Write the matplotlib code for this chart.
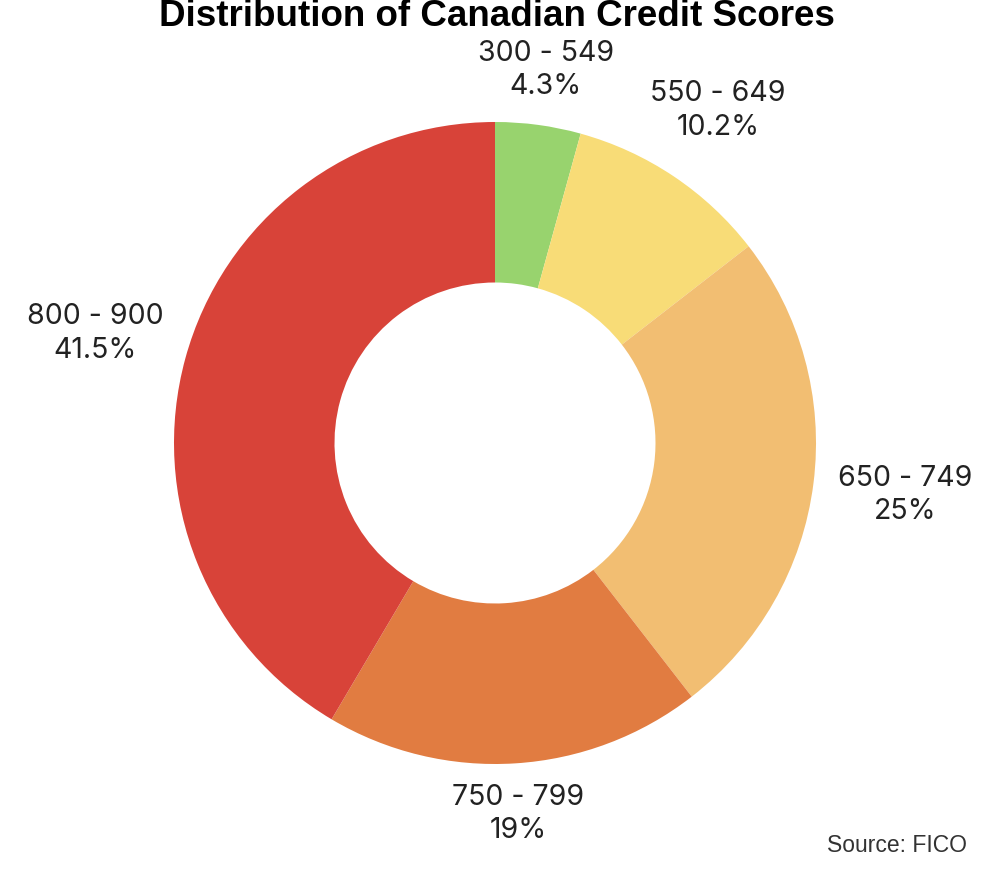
import numpy as np
import matplotlib.pyplot as plt


# =====================================
# Data
# =====================================

ranges = ["300 - 549", "550 - 649", "650 - 749", "750 - 799", "800 - 900"]
shares = [4.3, 10.2, 25, 19, 41.5]
share_labels = ["4.3%", "10.2%", "25%", "19%", "41.5%"]

colors = ["#98D36E", "#F8DC77", "#F2BE72", "#E17C41", "#D84339"]


# =====================================
# Figure
# =====================================

W, H = 994, 874
R_PX = 321
CX, CY = 495, 443

fig = plt.figure(figsize=(W / 100, H / 100), dpi=100)
ax = fig.add_axes([0, 0, 1, 1])

ax.pie(
    shares,
    colors=colors,
    startangle=90,
    counterclock=False,
    radius=1,
    wedgeprops=dict(width=0.5, linewidth=0),
)

ax.set_xlim(-CX / R_PX, (W - CX) / R_PX)
ax.set_ylim(-(H - CY) / R_PX, CY / R_PX)
ax.set_aspect("equal")
ax.axis("off")


# =====================================
# Labels outside the ring
# =====================================

total = sum(shares)
start = 90.0
for name, pct, val in zip(ranges, share_labels, shares):
    sweep = val / total * 360
    mid = np.deg2rad(start - sweep / 2)
    start -= sweep
    gap = 25 + abs(np.cos(mid)) * 65 + abs(np.sin(mid)) * 22
    r = 1 + gap / R_PX
    ax.text(
        r * np.cos(mid),
        r * np.sin(mid),
        name + "\n" + pct,
        ha="center",
        va="center",
        fontsize=20.5,
        family="Inter",
        color="#222222",
        linespacing=1.3,
    )


fig.text(
    0.5, 1 - 26 / H,
    "Distribution of Canadian Credit Scores",
    ha="center",
    va="baseline",
    fontsize=26.5,
    fontweight="bold",
    family="Liberation Sans",
)

fig.text(
    967 / W, 1 - 846 / H,
    "Source: FICO",
    ha="right",
    va="center",
    fontsize=16.5,
    family="Liberation Sans",
    color="#333333",
)


fig.savefig("out.png", dpi=100)
plt.close(fig)
